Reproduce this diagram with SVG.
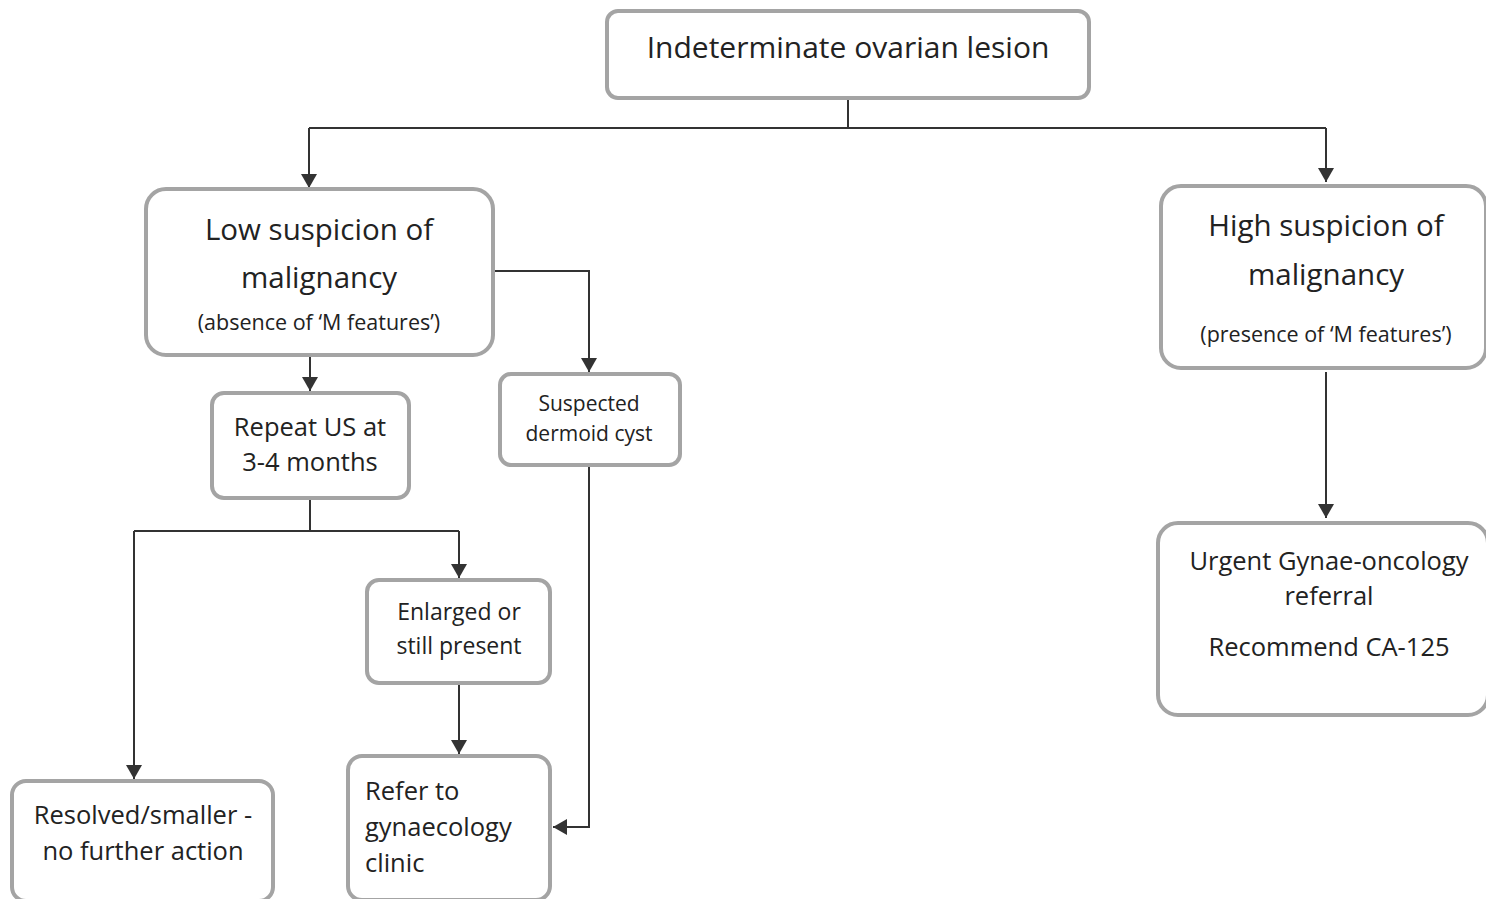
<svg xmlns="http://www.w3.org/2000/svg" width="1486" height="899" viewBox="0 0 1486 899">
<defs>
<marker id="arr" markerUnits="userSpaceOnUse" markerWidth="14" markerHeight="16" viewBox="0 0 14 16" refX="14" refY="8" orient="auto">
<path d="M0,0 L14,8 L0,16 Z" fill="#333"/>
</marker>
<style>
.box{fill:#fff;stroke:#a4a4a4;stroke-width:4}
.c{fill:none;stroke:#333;stroke-width:2}
text{font-family:"Open Sans","Noto Sans",sans-serif;fill:#222;text-anchor:middle}
.l{text-anchor:start}
</style>
</defs>
<rect width="1486" height="899" fill="#fff"/>
<g id="connectors">
<path class="c" d="M848,98 V128"/>
<path class="c" d="M309,128 H1326"/>
<path class="c" d="M309,128 V188" marker-end="url(#arr)"/>
<path class="c" d="M1326,128 V182" marker-end="url(#arr)"/>
<path class="c" d="M310,355 V391" marker-end="url(#arr)"/>
<path class="c" d="M493,271 H589 V372" marker-end="url(#arr)"/>
<path class="c" d="M310,498 V531"/>
<path class="c" d="M134,531 H459"/>
<path class="c" d="M134,531 V779" marker-end="url(#arr)"/>
<path class="c" d="M459,531 V578" marker-end="url(#arr)"/>
<path class="c" d="M459,683 V754" marker-end="url(#arr)"/>
<path class="c" d="M589,465 V827 H553" marker-end="url(#arr)"/>
<path class="c" d="M1326,372 V518" marker-end="url(#arr)"/>
</g>
<g id="n-indeterminate">
<rect class="box" x="607" y="11" width="482" height="87" rx="11"/>
<text x="848" y="58" font-size="30">Indeterminate ovarian lesion</text>
</g>
<g id="n-low">
<rect class="box" x="146" y="189" width="347" height="166" rx="20"/>
<text x="319" y="240" font-size="29.5">Low suspicion of</text>
<text x="319" y="288" font-size="29.5">malignancy</text>
<text x="319" y="330" font-size="21.5">(absence of ‘M features’)</text>
</g>
<g id="n-repeat">
<rect class="box" x="212" y="393" width="197" height="105" rx="12"/>
<text x="310" y="436" font-size="25.5">Repeat US at</text>
<text x="310" y="471" font-size="25.5">3-4 months</text>
</g>
<g id="n-dermoid">
<rect class="box" x="500" y="374" width="180" height="91" rx="11"/>
<text x="589" y="411" font-size="21">Suspected</text>
<text x="589" y="441" font-size="21">dermoid cyst</text>
</g>
<g id="n-enlarged">
<rect class="box" x="367" y="580" width="183" height="103" rx="12"/>
<text x="459" y="620" font-size="23">Enlarged or</text>
<text x="459" y="654" font-size="23">still present</text>
</g>
<g id="n-refer">
<rect class="box" x="348" y="756" width="202" height="144" rx="14"/>
<text class="l" x="365" y="800" font-size="25.5">Refer to</text>
<text class="l" x="365" y="836" font-size="25.5">gynaecology</text>
<text class="l" x="365" y="872" font-size="25.5">clinic</text>
</g>
<g id="n-resolved">
<rect class="box" x="12" y="781" width="261" height="120" rx="14"/>
<text x="143" y="824" font-size="25.5">Resolved/smaller -</text>
<text x="143" y="860" font-size="25.5">no further action</text>
</g>
<g id="n-high">
<rect class="box" x="1161" y="186" width="325" height="182" rx="20"/>
<text x="1326" y="236" font-size="29.5">High suspicion of</text>
<text x="1326" y="285" font-size="29.5">malignancy</text>
<text x="1326" y="342" font-size="21.5">(presence of ‘M features’)</text>
</g>
<g id="n-urgent">
<rect class="box" x="1158" y="523" width="330" height="192" rx="20"/>
<text x="1329" y="570" font-size="25.5">Urgent Gynae-oncology</text>
<text x="1329" y="605" font-size="25.5">referral</text>
<text x="1329" y="656" font-size="25.5">Recommend CA-125</text>
</g>
</svg>
